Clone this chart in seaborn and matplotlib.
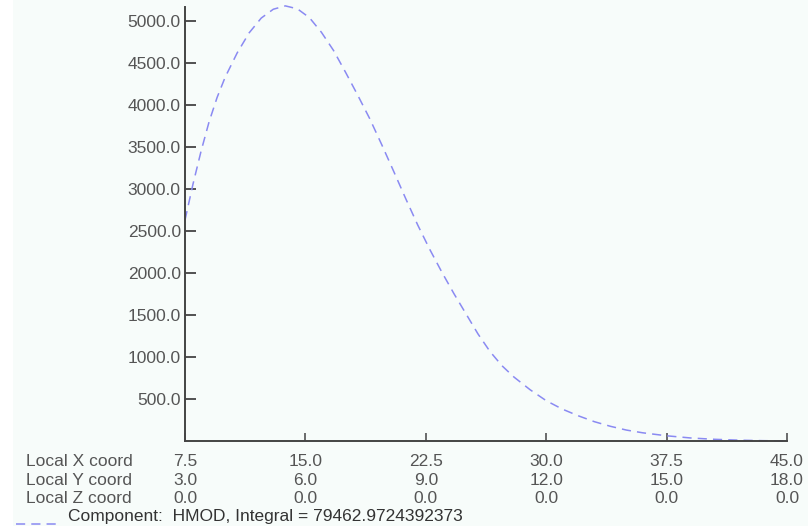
import matplotlib
matplotlib.use("Agg")
import matplotlib.pyplot as plt
import matplotlib.patches as mpatches
import matplotlib.lines as mlines
import seaborn as sns
import pandas as pd

# HMOD component along the local X coordinate
local_x = [7.5, 8.0, 8.5, 9.0, 9.5, 10.0, 10.75, 11.5, 12.25, 13.0, 13.75,
           14.5, 15.25, 16.0, 16.75, 17.5, 18.25, 19.0, 19.75, 20.5, 21.25,
           22.0, 22.75, 23.5, 24.25, 25.0, 25.75, 26.5, 27.25, 28.0, 29.0,
           30.0, 31.0, 32.0, 33.0, 34.0, 35.0, 36.0, 37.5, 39.0, 40.5, 42.0,
           43.5, 45.0]
hmod = [2630, 3060, 3450, 3800, 4090, 4330, 4620, 4860, 5035, 5140, 5180,
        5145, 5040, 4865, 4650, 4390, 4120, 3840, 3530, 3210, 2885,
        2570, 2280, 2010, 1755, 1515, 1275, 1065, 895, 760, 610,
        480, 380, 300, 230, 175, 130, 98, 62, 36, 20, 10,
        4, 0]

# tick rows shown under the axis
x_ticks = [7.5, 15.0, 22.5, 30.0, 37.5, 45.0]
y_coord_labels = ["3.0", "6.0", "9.0", "12.0", "15.0", "18.0"]
z_coord_labels = ["0.0", "0.0", "0.0", "0.0", "0.0", "0.0"]
row_names = ["Local X coord", "Local Y coord", "Local Z coord"]
value_ticks = [500, 1000, 1500, 2000, 2500, 3000, 3500, 4000, 4500, 5000]
legend_text = "Component:  HMOD, Integral = 79462.9724392373"

bg = "#f7fcfa"
txt = "#555555"
line_col = "#8a8af2"

sns.set_theme(style="white")
plt.rcParams["font.family"] = ["Liberation Sans", "DejaVu Sans"]

W, H = 808, 526
fig = plt.figure(figsize=(W / 100, H / 100), dpi=100, facecolor=bg)
fig.patches.append(mpatches.Rectangle((0, 0), 13 / W, 1, transform=fig.transFigure,
                                      facecolor="white", edgecolor="none", zorder=0))

x0, x1, ytop, ybot = 185, 787, 7, 441
ax = fig.add_axes([x0 / W, 1 - ybot / H, (x1 - x0) / W, (ybot - ytop) / H])
ax.set_facecolor(bg)

df = pd.DataFrame({"x": local_x, "v": hmod})
sns.lineplot(data=df, x="x", y="v", ax=ax, color=line_col, linewidth=1.1,
             dashes=False, linestyle=(0, (6, 4)), clip_on=False)

ax.set_xlim(7.5, 45.0)
ax.set_ylim(0, (ybot - ytop) * 500 / 42)
ax.set_xlabel("")
ax.set_ylabel("")

for side in ["top", "right"]:
    ax.spines[side].set_visible(False)
for side in ["left", "bottom"]:
    ax.spines[side].set_color("#444444")
    ax.spines[side].set_linewidth(1.4)

ax.set_yticks(value_ticks)
ax.set_yticklabels([f"{v:.1f}" for v in value_ticks])
ax.tick_params(axis="y", left=True, direction="in", length=8, width=1.3,
               color="#444444", pad=3, labelsize=12.5, labelcolor=txt)
ax.set_xticks(x_ticks)
ax.set_xticklabels([])
ax.tick_params(axis="x", bottom=True, direction="in", length=6, width=1.1,
               color="#444444")

# coordinate rows below the axis
row_y = [461.5, 480.5, 498.5]
rows = [[f"{v:.1f}" for v in x_ticks], y_coord_labels, z_coord_labels]
for name, yy, labels in zip(row_names, row_y, rows):
    fig.text(26 / W, 1 - yy / H, name, ha="left", va="center",
             fontsize=12.5, color=txt)
    for xv, lab in zip(x_ticks, labels):
        xp = x0 + (xv - 7.5) / (45.0 - 7.5) * (x1 - x0)
        fig.text(xp / W, 1 - yy / H, lab, ha="center", va="center",
                 fontsize=12.5, color=txt)

# legend entry
fig.lines.append(mlines.Line2D([16 / W, 57 / W], [1 - 524 / H, 1 - 524 / H],
                               transform=fig.transFigure, color=line_col,
                               linewidth=1.1, linestyle=(0, (6, 4))))
fig.text(68 / W, 1 - 516.5 / H, legend_text, ha="left", va="center",
         fontsize=12.5, color="#333333")

fig.savefig("out.png", dpi=100, facecolor=bg)
